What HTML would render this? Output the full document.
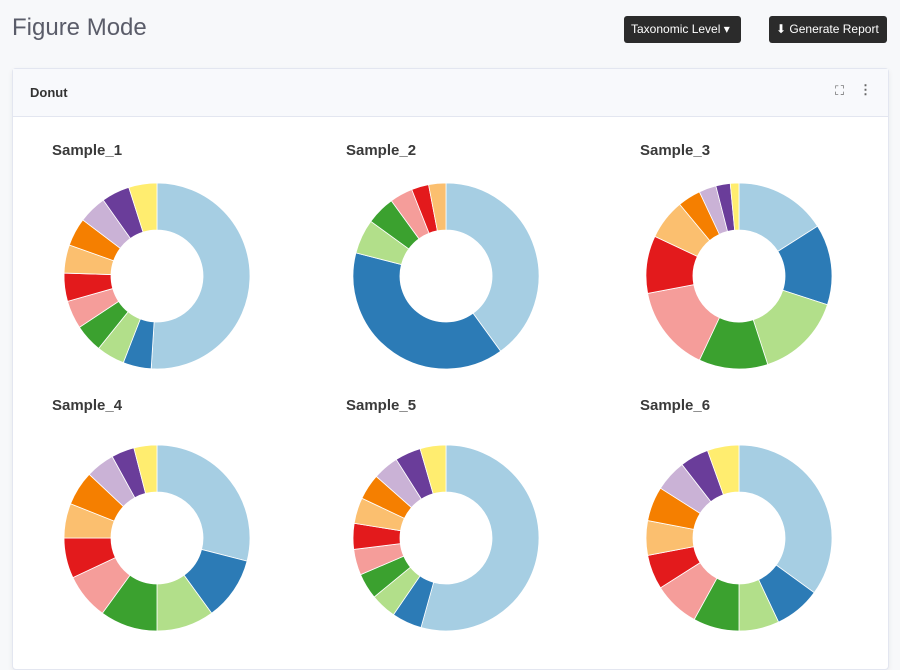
<!DOCTYPE html>
<html><head><meta charset="utf-8"><style>
body{margin:0;width:900px;height:650px;overflow:hidden;background:#f7f8fa;font-family:"Liberation Sans",sans-serif;position:relative}
.title{position:absolute;left:12px;top:14px;font-size:24px;color:#5a5c69}
.btn{position:absolute;top:16px;height:27px;background:#2b2b2b;color:#fff;font-size:12px;border-radius:3px;line-height:27px;padding:0 7px;box-sizing:border-box;white-space:nowrap;overflow:hidden}
.card{position:absolute;left:12px;top:68px;width:875px;height:600px;background:#fff;border:1px solid #e3e6f0;border-radius:4px;box-shadow:0 2px 6px rgba(0,0,0,.06)}
.ch{height:47px;background:#f8f9fc;border-bottom:1px solid #e3e6f0;position:relative}
.ch span{position:absolute;left:17px;top:16px;font-weight:bold;font-size:13px;color:#333}
</style></head><body>
<div class="title">Figure Mode</div>
<div class="btn" style="left:624px;width:117px">Taxonomic Level &#9662;</div>
<div class="btn" style="left:769px;width:118px">&#11015; Generate Report</div>
<div class="card">
<div class="ch"><span>Donut</span>
<span style="left:822px;top:14px;font-weight:normal;color:#666">&#x26F6;</span>
<span style="left:846px;top:13px;font-weight:bold;color:#666">&#8942;</span></div>
</div>
<svg id="chart" width="900" height="650" style="position:absolute;left:0;top:0"></svg>
<script>
const colors=["#a6cee3","#2c7bb6","#b2df8a","#3ba12f","#f59d9a","#e31a1c","#fbbf6f","#f57f00","#cab2d6","#6a3d9a","#ffed6f"];
const samples=["Sample_1","Sample_2","Sample_3","Sample_4","Sample_5","Sample_6"];
const s1=[51,4.9,4.9,4.9,4.9,4.9,4.9,4.9,4.9,4.9,4.9];
const s2=[40,39,6,5,4,3,3,0,0,0,0];
const s3=[16,14,15,12,15,10,7,4,3,2.5,1.5];
const s4=[29,11,10,10,8,7,6,6,5,4,4];
const s5=[52,5,4.3,4.3,4.3,4.3,4.3,4.3,4.3,4.3,4.3];
const s6=[35,8,7,8,8,6,6,6,5.5,5,5.5];
const values=[s1,s2,s3,s4,s5,s6];
const svg=document.getElementById('chart');const NS="http://www.w3.org/2000/svg";
const cxs=[157,446,739],cys=[276,538],tx=[52,346,640],ty=[155,410],R=93,r=46;
function pt(a,rad,cx,cy){return [cx+rad*Math.sin(a),cy-rad*Math.cos(a)];}
values.forEach((vals,i)=>{
 const cx=cxs[i%3],cy=cys[Math.floor(i/3)];
 const t=document.createElementNS(NS,'text');
 t.setAttribute('x',tx[i%3]);t.setAttribute('y',ty[Math.floor(i/3)]);
 t.setAttribute('style','font-weight:bold;font-size:15px;fill:#3a3a3a;font-family:Liberation Sans,sans-serif');
 t.textContent=samples[i];
 
 
 svg.appendChild(t);
 const tot=vals.reduce((a,b)=>a+b,0);let a0=0;
 vals.forEach((v,j)=>{
  if(v<=0)return;
  const a1=a0+v/tot*2*Math.PI;const lg=(a1-a0)>Math.PI?1:0;
  const p1=pt(a0,R,cx,cy),p2=pt(a1,R,cx,cy),p3=pt(a1,r,cx,cy),p4=pt(a0,r,cx,cy);
  const p=document.createElementNS(NS,'path');
  p.setAttribute('d',`M${p1}A${R},${R} 0 ${lg} 1 ${p2}L${p3}A${r},${r} 0 ${lg} 0 ${p4}Z`);
  p.setAttribute('fill',colors[j]);p.setAttribute('stroke','#fff');p.setAttribute('stroke-width','0.8');
  
  
  svg.appendChild(p);a0=a1;
 });
});
</script>
</body></html>
